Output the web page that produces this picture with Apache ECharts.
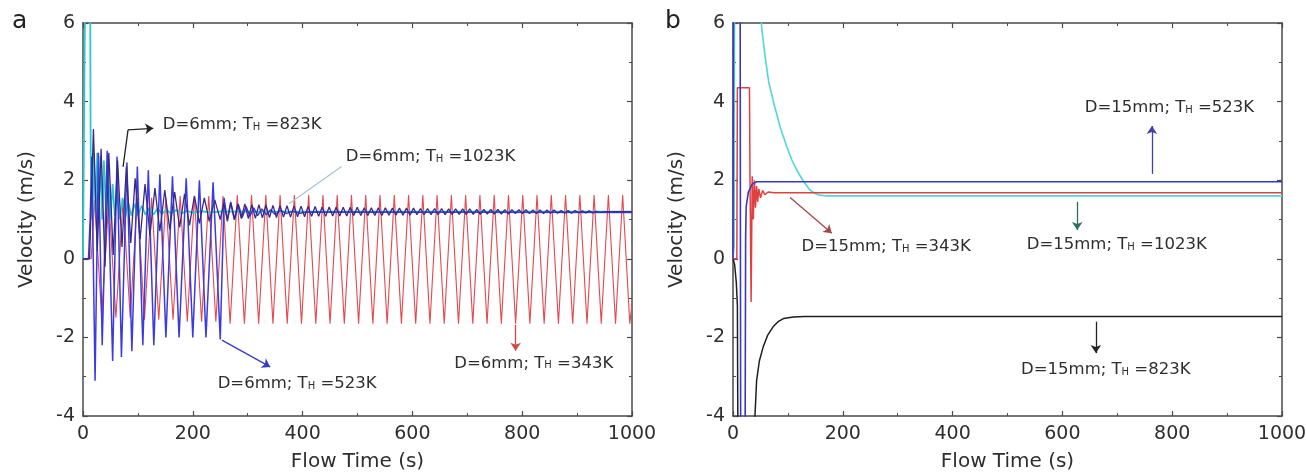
<!DOCTYPE html>
<html><head><meta charset="utf-8">
<script src="https://cdn.jsdelivr.net/npm/echarts@6/dist/echarts.min.js"></script>
<style>html,body{margin:0;padding:0;background:#fff}#c{width:1306px;height:472px}</style>
</head><body><div id="c"></div>
<script>
// ---------- tick labels / axis text ----------
const xTickValues = [0, 200, 400, 600, 800, 1000];
const yTickValues = [-4, -2, 0, 2, 4, 6];
const xTitle = 'Flow Time (s)';
const yTitle = 'Velocity (m/s)';
const panelLetters = ['a', 'b'];

// ---------- panel a (D = 6 mm) : [time s, velocity m/s] ----------
const aRed343 = [[0,0],[15,0],[21,1.5],[34,-1.45],[47,1.5],[60,-1.5],[73,1.5],[86,-1.5],[99,1.55],[112,-1.55],[125,1.55],[138,-1.55],[151,1.55],[164,-1.55],[177,1.6],[190,-1.6],[203,1.6],[216,-1.6],[229,1.6],[242,-1.6],[255,1.6],[268,-1.65],[281,1.62],[294,-1.65],[307,1.62],[320,-1.65],[333,1.62],[346,-1.65],[359,1.62],[372,-1.65],[385,1.62],[398,-1.65],[411,1.62],[424,-1.65],[437,1.62],[450,-1.65],[463,1.62],[476,-1.65],[489,1.62],[502,-1.65],[515,1.62],[528,-1.65],[541,1.62],[554,-1.65],[567,1.62],[580,-1.65],[593,1.62],[606,-1.65],[619,1.62],[632,-1.65],[645,1.62],[658,-1.65],[671,1.62],[684,-1.65],[697,1.62],[710,-1.65],[723,1.62],[736,-1.65],[749,1.62],[762,-1.65],[775,1.62],[788,-1.65],[801,1.62],[814,-1.65],[827,1.62],[840,-1.65],[853,1.62],[866,-1.65],[879,1.62],[892,-1.65],[905,1.62],[918,-1.65],[931,1.62],[944,-1.65],[957,1.62],[970,-1.65],[983,1.62],[996,-1.65],[1000,-1.15]];
const aBlue523 = [[0,0],[10,0],[13,1.0],[16,2.6],[22,-3.1],[28,2.7],[35,-2.2],[44,2.75],[54,-2.6],[62,2.6],[70,-2.5],[80,2.45],[89,-2.35],[99,2.35],[109,-2.2],[119,2.25],[129,-2.2],[140,2.15],[151,-2.0],[163,2.1],[175,-2.0],[188,2.05],[200,-2.0],[212,2.0],[224,-2.0],[237,1.95],[250,-2.05],[257,1.55],[263,0.95],[269,1.45],[276,1.0],[283,1.38],[290,1.05],[297,1.33],[304,1.08],[311,1.3],[318,1.1],[326,1.27],[334,1.12],[342,1.25],[350,1.13],[360,1.23],[370,1.15],[382,1.21],[395,1.16],[410,1.19],[1000,1.18]];
const aBlack823 = [[0,0],[12,0],[19,3.3],[26,0.2],[33,2.8],[40,-0.2],[47,2.7],[55,0.1],[63,2.5],[71,0.3],[79,2.35],[87,0.4],[95,2.05],[104,0.5],[113,1.9],[122,0.6],[131,1.8],[140,0.7],[149,1.75],[158,0.75],[167,1.7],[176,0.8],[185,1.65],[194,0.85],[203,1.6],[212,0.9],[221,1.55],[230,0.95],[240,1.5],[250,1.0],[256.4,1.42],[262.8,1.0],[269.2,1.42],[275.6,1.0],[282,1.4],[288.4,1.02],[294.8,1.4],[301.2,1.02],[307.6,1.38],[314,1.03],[320.4,1.38],[326.8,1.04],[333.2,1.37],[339.6,1.05],[346,1.36],[352.4,1.05],[358.8,1.35],[365.2,1.06],[371.6,1.35],[378,1.06],[384.4,1.34],[390.8,1.07],[397.2,1.34],[403.6,1.07],[410,1.33],[416.4,1.08],[422.8,1.33],[429.2,1.08],[435.6,1.32],[442,1.08],[448.4,1.32],[454.8,1.09],[461.2,1.32],[467.6,1.09],[474,1.31],[480.4,1.09],[486.8,1.31],[493.2,1.1],[499.6,1.31],[506,1.1],[512.4,1.3],[518.8,1.1],[525.2,1.3],[531.6,1.1],[538,1.3],[544.4,1.1],[550.8,1.3],[557.2,1.11],[563.6,1.29],[570,1.11],[576.4,1.29],[582.8,1.11],[589.2,1.29],[595.6,1.11],[602,1.29],[608.4,1.12],[614.8,1.28],[621.2,1.12],[627.6,1.28],[634,1.12],[640.4,1.28],[646.8,1.12],[653.2,1.28],[659.6,1.12],[666,1.27],[672.4,1.13],[678.8,1.27],[685.2,1.13],[691.6,1.27],[698,1.13],[704.4,1.27],[710.8,1.13],[717.2,1.26],[723.6,1.13],[730,1.26],[736.4,1.14],[742.8,1.26],[749.2,1.14],[755.6,1.26],[762,1.14],[768.4,1.25],[774.8,1.14],[781.2,1.25],[787.6,1.15],[794,1.25],[800.4,1.15],[806.8,1.25],[813.2,1.15],[819.6,1.24],[826,1.15],[832.4,1.24],[838.8,1.15],[845.2,1.24],[851.6,1.16],[858,1.24],[864.4,1.16],[870.8,1.23],[877.2,1.16],[883.6,1.23],[890,1.16],[896.4,1.23],[902.8,1.17],[909.2,1.22],[915.6,1.17],[922,1.22],[928.4,1.17],[934.8,1.21],[941.2,1.18],[950,1.2],[1000,1.2]];
const aCyan1023 = [[0,0],[3,0],[4,7],[13,7],[14,2.7],[17,1.0],[20,2.7],[23,1.1],[26,2.7],[29,1.2],[32,2.6],[35,1.0],[38,2.5],[42,1.2],[46,2.2],[50,1.0],[54,1.9],[58,1.1],[62,1.7],[67,1.0],[72,1.55],[77,1.05],[82,1.45],[88,1.1],[94,1.4],[100,1.1],[107,1.35],[114,1.12],[121,1.3],[128,1.12],[136,1.28],[144,1.14],[152,1.26],[160,1.15],[170,1.24],[180,1.16],[190,1.22],[200,1.17],[215,1.21],[230,1.18],[250,1.2],[1000,1.2]];

// ---------- panel b (D = 15 mm) ----------
const bRed343 = [[0,0],[7,0],[8,4.35],[30,4.35],[31,2],[33,-1.1],[35,2.1],[37,1.0],[39,2.0],[41,1.3],[43,1.85],[45,1.45],[47,1.78],[50,1.55],[54,1.74],[58,1.63],[64,1.7],[75,1.68],[1000,1.68]];
const bBlue523 = [[0,0],[1,7],[13,7],[14,-5],[22,-5],[23,0.5],[24,1.33],[28,1.7],[35,1.9],[43,1.96],[1000,1.96]];
const bBlack823 = [[0,0],[3,-0.15],[6,-0.6],[8,-1.2],[9,-5],[38,-5],[40,-4.0],[43,-3.1],[48,-2.6],[55,-2.24],[63,-1.95],[73,-1.73],[82,-1.6],[92,-1.52],[110,-1.48],[130,-1.47],[1000,-1.47]];
const bCyan1023 = [[0,0],[2,0.3],[3,8],[50,8],[52,5.9],[58,5.2],[65,4.5],[76,3.87],[87,3.3],[98,2.85],[107,2.52],[116,2.26],[128,1.98],[140,1.75],[150,1.66],[158,1.62],[170,1.6],[1000,1.6]];

// ---------- annotation texts ----------
const aLabels = ['D=6mm; T{s|H} =823K', 'D=6mm; T{s|H} =1023K', 'D=6mm; T{s|H} =523K', 'D=6mm; T{s|H} =343K'];
const bLabels = ['D=15mm; T{s|H} =523K', 'D=15mm; T{s|H} =1023K', 'D=15mm; T{s|H} =343K', 'D=15mm; T{s|H} =823K'];

const FONT = 'DejaVu Sans';
const AX = '#4a4a4a';
const TXT = '#2e2e2e';

function xAxes(gi) {
  const base = {type:'value', gridIndex:gi, min:0, max:1000, interval:200,
    axisLine:{show:true, onZero:false, lineStyle:{color:AX, width:1.5}},
    axisTick:{show:true, inside:true, length:5, lineStyle:{color:AX, width:1.2}},
    minorTick:{show:true, splitNumber:2, length:3, lineStyle:{color:AX, width:1}},
    splitLine:{show:false}};
  return [
    Object.assign({}, base, {position:'bottom',
      axisLabel:{fontFamily:FONT, fontSize:19, color:TXT, margin:9,
        formatter: v => xTickValues.includes(v) ? String(v) : ''},
      name:xTitle, nameLocation:'middle', nameGap:36,
      nameTextStyle:{fontFamily:FONT, fontSize:20, color:TXT}}),
    Object.assign({}, base, {position:'top', axisLabel:{show:false}})
  ];
}
function yAxes(gi) {
  const base = {type:'value', gridIndex:gi, min:-4, max:6, interval:2,
    axisLine:{show:true, onZero:false, lineStyle:{color:AX, width:1.5}},
    axisTick:{show:true, inside:true, length:5, lineStyle:{color:AX, width:1.2}},
    minorTick:{show:true, splitNumber:2, length:3, lineStyle:{color:AX, width:1}},
    splitLine:{show:false}};
  return [
    Object.assign({}, base, {position:'left',
      axisLabel:{fontFamily:FONT, fontSize:19, color:TXT, margin:8,
        formatter: v => yTickValues.includes(v) ? String(v) : ''},
      name:yTitle, nameLocation:'middle', nameGap:46,
      nameTextStyle:{fontFamily:FONT, fontSize:20, color:TXT}}),
    Object.assign({}, base, {position:'right', axisLabel:{show:false}})
  ];
}

function line(gi, data, color, width, z) {
  return {type:'line', xAxisIndex:gi*2, yAxisIndex:gi*2, data:data, showSymbol:false,
    symbol:'none', clip:true, z:z, lineStyle:{color:color, width:width}, itemStyle:{color:color}};
}
function seg(p1, p2, color, arrowEnd) {
  const ls = {color:color, width:1.3, type:'solid'};
  return [{coord:p1, symbol:'none', lineStyle:ls}, {coord:p2, symbol: arrowEnd ? 'arrow' : 'none', symbolSize:8, lineStyle:ls}];
}
function lab(p, txt) {
  return {coord:p, symbol:'rect', symbolSize:1, itemStyle:{color:'rgba(0,0,0,0)'},
    label:{show:true, position:'inside', formatter:txt, color:TXT, fontFamily:FONT, fontSize:16.5,
      rich:{s:{fontFamily:FONT, fontSize:10, color:TXT, padding:[5,0,0,0]}}}};
}
function annot(gi, segs, labels) {
  return {type:'line', xAxisIndex:gi*2, yAxisIndex:gi*2, data:[], z:10, silent:true,
    markLine:{silent:true, animation:false, symbol:['none','none'], label:{show:false}, data:segs},
    markPoint:{silent:true, animation:false, data:labels}};
}

const option = {
  animation:false,
  backgroundColor:'#ffffff',
  grid:[
    {left:83, top:23, width:549, height:393, outerBoundsMode:'none', containLabel:false},
    {left:733, top:23, width:549, height:393, outerBoundsMode:'none', containLabel:false}
  ],
  xAxis:[...xAxes(0), ...xAxes(1)],
  yAxis:[...yAxes(0), ...yAxes(1)],
  graphic:[
    {type:'text', left:12, top:9, style:{text:panelLetters[0], font:'25px DejaVu Sans', fill:'#222'}},
    {type:'text', left:665, top:9, style:{text:panelLetters[1], font:'25px DejaVu Sans', fill:'#222'}}
  ],
  series:[
    line(0, aRed343, '#e5484f', 1.1, 2),
    line(0, aCyan1023, '#2ec8d0', 1.8, 3),
    line(0, aBlue523, '#3b3be0', 1.5, 4),
    line(0, aBlack823, '#3a2a85', 1.3, 5),
    annot(0, [
      seg([73,2.34],[82,3.28],'#222',false),
      seg([82,3.28],[128,3.32],'#222',true),
      seg([375,1.4],[471,2.35],'#a9c6d4',false),
      seg([253,-2.07],[341,-2.75],'#3a3ac8',true),
      seg([788,-1.68],[788,-2.34],'#d04848',true)
    ], [
      lab([290,3.4], aLabels[0]),
      lab([633,2.6], aLabels[1]),
      lab([390,-3.19], aLabels[2]),
      lab([821,-2.66], aLabels[3])
    ]),
    line(1, bBlack823, '#1e1e1e', 1.5, 2),
    line(1, bCyan1023, '#4fd6da', 1.6, 3),
    line(1, bRed343, '#e24040', 1.5, 4),
    line(1, bBlue523, '#3838c4', 1.6, 5),
    annot(1, [
      seg([763,2.16],[763,3.38],'#4040b0',true),
      seg([627,1.45],[627,0.73],'#2e6e5e',true),
      seg([104,1.56],[180,0.65],'#a04848',true),
      seg([661,-1.6],[661,-2.4],'#222',true)
    ], [
      lab([795,3.84], bLabels[0]),
      lab([699,0.35], bLabels[1]),
      lab([279,0.31], bLabels[2]),
      lab([679,-2.83], bLabels[3])
    ])
  ]
};
const chart = echarts.init(document.getElementById('c'), null, {renderer:'canvas'});
chart.setOption(option);
</script>
</body></html>
